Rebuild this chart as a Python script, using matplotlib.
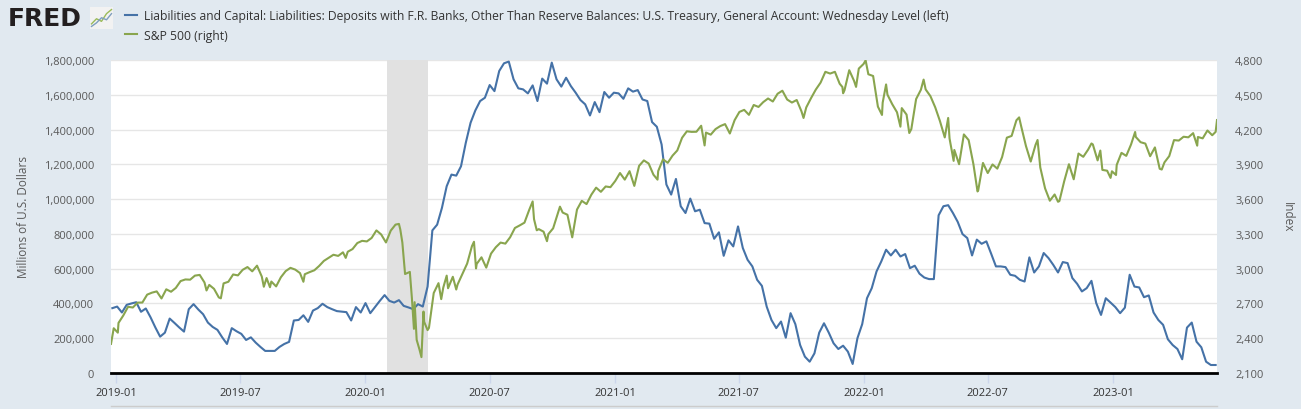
import matplotlib
matplotlib.use("Agg")
import matplotlib.pyplot as plt
import matplotlib.dates as mdates
from matplotlib.lines import Line2D
from matplotlib.ticker import FuncFormatter, MultipleLocator
import numpy as np
import pandas as pd

plt.rcParams['font.family'] = ['Open Sans', 'DejaVu Sans']

# Treasury General Account, weekly (Wednesday level), billions of dollars, from 2018-12-26
tga_start = '2018-12-26'
tga_bn = [
    373,
    382, 348, 392, 400, 407,            # 2019-01
    352, 371, 320, 262,
    209, 232, 313, 288,
    262, 238, 367, 396,
    365, 338, 290, 265, 248,
    205, 167, 258, 240,
    225, 190, 205, 175, 150,
    127, 127, 127, 150,
    167, 179, 302, 305,
    332, 294, 359, 373, 398,
    379, 367, 356, 353,
    350, 302, 379, 348,
    402, 344, 380, 415, 448,            # 2020-01
    415, 405, 419, 386,
    377, 367, 396, 382,
    497, 820, 853, 949, 1074,
    1141, 1135, 1189, 1324,
    1439, 1510, 1564, 1583,
    1656, 1621, 1737, 1781, 1791,
    1689, 1637, 1631, 1608,
    1654, 1564, 1693, 1664, 1785,
    1689, 1647, 1698, 1650,
    1612, 1570, 1545, 1481,
    1558, 1500, 1616, 1583, 1612,
    1608, 1577, 1637, 1618,             # 2021-01
    1627, 1573, 1564, 1443,
    1416, 1314, 1084, 1026, 1116,
    959, 920, 1003, 930,
    939, 862, 859, 772,
    809, 674, 763, 728, 843,
    719, 651, 613, 536,
    501, 382, 305, 258,
    296, 203, 344, 281, 161,
    94, 65, 113, 232,
    286, 232, 171, 138,
    157, 123, 52, 200, 281,
    430, 488, 584, 642,                 # 2022-01
    709, 676, 709, 670,
    684, 603, 617, 571, 549,
    540, 540, 907, 959,
    965, 920, 869, 799,
    776, 676, 767, 743, 757,
    686, 613, 613, 609,
    565, 559, 536, 526, 665,
    578, 613, 690, 661,
    622, 578, 638, 632,
    546, 513, 469, 488, 530,
    402, 334, 430, 405,
    379, 344, 376, 565,                 # 2023-01
    497, 492, 436, 446,
    348, 305, 277, 194, 161,
    138, 79, 261, 290,
    180, 148, 65, 46, 46,
]

# S&P 500 weekly (Friday) closes from 2018-12-28
sp_start = '2018-12-28'
sp_weekly = [
    2486,
    2532, 2596, 2671, 2665,             # 2019-01
    2707, 2708, 2776, 2793,
    2804, 2743, 2822, 2801, 2834,
    2893, 2907, 2905, 2940,
    2946, 2881, 2860, 2826, 2752,
    2873, 2887, 2950, 2942,
    2990, 3014, 2977, 3026,
    2932, 2919, 2889, 2847, 2926,
    2979, 3007, 2992, 2962,
    2952, 2970, 2986, 3023,
    3067, 3093, 3120, 3110, 3141,
    3146, 3169, 3221, 3240,
    3235, 3265, 3330, 3295, 3226,       # 2020-01
    3328, 3380, 3338, 2954,
    2972, 2711, 2305, 2541,
    2489, 2790, 2875, 2837,
    2831, 2930, 2864, 2955, 3044,
    3194, 3041, 3098, 3009,
    3130, 3185, 3225, 3216, 3271,
    3351, 3373, 3397, 3508,
    3427, 3341, 3319, 3298,
    3348, 3477, 3484, 3465, 3270,
    3510, 3585, 3557, 3638,
    3699, 3663, 3709, 3703,
    3756, 3825, 3768, 3841, 3714,       # 2021-01
    3887, 3934, 3907, 3811,
    3842, 3943, 3913, 3975,
    4020, 4129, 4185, 4180, 4181,
    4233, 4174, 4156, 4204,
    4230, 4247, 4166, 4281,
    4352, 4370, 4327, 4412, 4395,
    4437, 4468, 4442, 4509,
    4535, 4459, 4433, 4455,
    4357, 4391, 4471, 4545, 4605,
    4698, 4683, 4698, 4595,
    4538, 4712, 4621, 4726, 4766,
    4677, 4662, 4398, 4432,             # 2022-01
    4501, 4419, 4349, 4385,
    4329, 4204, 4463, 4543,
    4546, 4488, 4392, 4272, 4132,
    4123, 4024, 3901, 4158,
    4109, 3901, 3675, 3912,
    3825, 3899, 3863, 3962, 4130,
    4145, 4280, 4228, 4058,
    3924, 4067, 3873, 3693, 3586,
    3640, 3583, 3753, 3901,
    3771, 3993, 3965, 4026,
    4072, 3934, 3852, 3845, 3840,
    3895, 3999, 3973, 4071,             # 2023-01
    4136, 4091, 4079, 3970,
    4046, 3862, 3917, 3971, 4109,
    4105, 4138, 4133, 4169,
    4136, 4124, 4192, 4151,
    4282,
]

# extra daily closes at turning points
sp_extra_dates = [
    '2018-12-24', '2019-01-03', '2019-05-13', '2019-06-03', '2019-08-05', '2019-08-14',
    '2019-10-02', '2019-12-03', '2020-02-19', '2020-02-24', '2020-03-09', '2020-03-12',
    '2020-03-16', '2020-03-23', '2020-03-26', '2020-04-01', '2020-04-21', '2020-04-29',
    '2020-05-13', '2020-06-08', '2020-06-11', '2020-09-02', '2020-09-08', '2020-09-23',
    '2020-10-12', '2021-03-04', '2021-05-12', '2021-10-04', '2021-11-30', '2021-12-01',
    '2021-12-20', '2022-01-03', '2022-01-27', '2022-02-02', '2022-02-23', '2022-03-08',
    '2022-03-29', '2022-05-04', '2022-05-12', '2022-06-16', '2022-08-16', '2022-09-12',
    '2022-10-12', '2022-11-30', '2022-12-13', '2022-12-28', '2023-01-05', '2023-02-02',
    '2023-03-13', '2023-05-04', '2023-05-31',
]
sp_extra_values = [
    2351, 2448, 2812, 2744, 2844, 2840,
    2887, 3093, 3386, 3226, 2746, 2481,
    2386, 2237, 2630, 2470, 2737, 2940,
    2820, 3232, 3002, 3580, 3331, 3237,
    3535, 3768, 4063, 4300, 4567, 4513,
    4568, 4797, 4326, 4589, 4225, 4170,
    4631, 4300, 3930, 3666, 4305, 4110,
    3577, 4080, 4019, 3783, 3808, 4179,
    3855, 4061, 4180,
]

recession = ('2020-02-01', '2020-04-01')

tga = pd.Series(np.array(tga_bn) * 1000.0,
                index=pd.date_range(tga_start, periods=len(tga_bn), freq='W-WED'))
sp = pd.concat([
    pd.Series(sp_weekly, index=pd.date_range(sp_start, periods=len(sp_weekly), freq='W-FRI')),
    pd.Series(sp_extra_values, index=pd.to_datetime(sp_extra_dates)),
]).sort_index()

W, H = 1301, 410
bg = '#e1e9f0'
blue = '#4572a7'
green = '#89a54e'

fig = plt.figure(figsize=(W / 100, H / 100), dpi=100, facecolor=bg)
ax = fig.add_axes([111 / W, 1 - 374 / H, (1217 - 111) / W, (374 - 61) / H])
ax2 = ax.twinx()
ax.set_facecolor('white')

l1, = ax.plot(tga.index, tga.values, color=blue, lw=1.5, zorder=3)
l2, = ax2.plot(sp.index, sp.values, color=green, lw=1.5, zorder=3)
ax.axvspan(pd.Timestamp(recession[0]), pd.Timestamp(recession[1]), color='#e1e1e1', lw=0, zorder=1)

ax.set_xlim(pd.Timestamp('2018-12-24'), pd.Timestamp('2023-06-02'))
ax.set_ylim(0, 1800000)
ax2.set_ylim(2100, 4800)
ax.yaxis.set_major_locator(MultipleLocator(200000))
ax2.yaxis.set_major_locator(MultipleLocator(300))
ax.yaxis.set_major_formatter(FuncFormatter(lambda v, p: f'{v:,.0f}'))
ax2.yaxis.set_major_formatter(FuncFormatter(lambda v, p: f'{v:,.0f}'))
ax.xaxis.set_major_locator(mdates.MonthLocator(bymonth=[1, 7]))
ax.xaxis.set_major_formatter(mdates.DateFormatter('%Y-%m'))

ax.yaxis.grid(True, color='#e6e6e6', lw=1, zorder=0)
ax.set_axisbelow(True)

for a in (ax, ax2):
    for s in ('top', 'left', 'right', 'bottom'):
        a.spines[s].set_visible(False)
ax.spines['bottom'].set_visible(True)
ax.spines['bottom'].set_color('black')
ax.spines['bottom'].set_linewidth(2)
ax.spines['bottom'].set_zorder(5)

tick_col = '#333333'
ax.tick_params(axis='x', length=7, width=1, color='#ccd6eb', pad=3, labelsize=8, labelcolor=tick_col)
ax.tick_params(axis='y', length=0, pad=12, labelsize=8, labelcolor='#595959')
ax2.tick_params(axis='y', length=0, pad=13, labelsize=8, labelcolor='#595959')

ax.set_ylabel('Millions of U.S. Dollars', fontsize=8.5, color='#595959', labelpad=10)
ax2.set_ylabel('Index', fontsize=8.5, color='#595959', rotation=-90, labelpad=22)

fig.legend([l1, l2],
           ['Liabilities and Capital: Liabilities: Deposits with F.R. Banks, Other Than Reserve Balances: '
            'U.S. Treasury, General Account: Wednesday Level (left)', 'S&P 500 (right)'],
           loc='upper left', bbox_to_anchor=(125 / W, 1 - 10 / H), frameon=False,
           fontsize=8.7, handlelength=1.0, handletextpad=0.55, labelspacing=0.55,
           borderaxespad=0, borderpad=0, labelcolor='#333333')

# FRED logo
fig.text(8 / W, 1 - 19 / H, 'FRED', fontsize=18, fontweight='heavy', color='#231f20',
         va='center', ha='left', family=['DejaVu Sans'])
icon = fig.add_axes([90 / W, 1 - 30 / H, 23 / W, 22 / H])
icon.set_facecolor('#f2f2f2')
icon.plot([0, 1, 2, 3, 4], [1, 2, 1.5, 3, 3.8], color='#9bbb59', lw=1)
icon.plot([0, 1, 2, 3, 4], [0.5, 1.2, 2.2, 1.8, 3], color='#7f9fbf', lw=1)
icon.set_xlim(-0.3, 4.3)
icon.set_ylim(0, 4.3)
icon.set_xticks([])
icon.set_yticks([])
for s in icon.spines.values():
    s.set_visible(False)

fig.add_artist(Line2D([111 / W, 1217 / W], [1 - 407 / H, 1 - 407 / H], color='#cccccc', lw=1))

fig.savefig('out.png', dpi=100, facecolor=bg)
